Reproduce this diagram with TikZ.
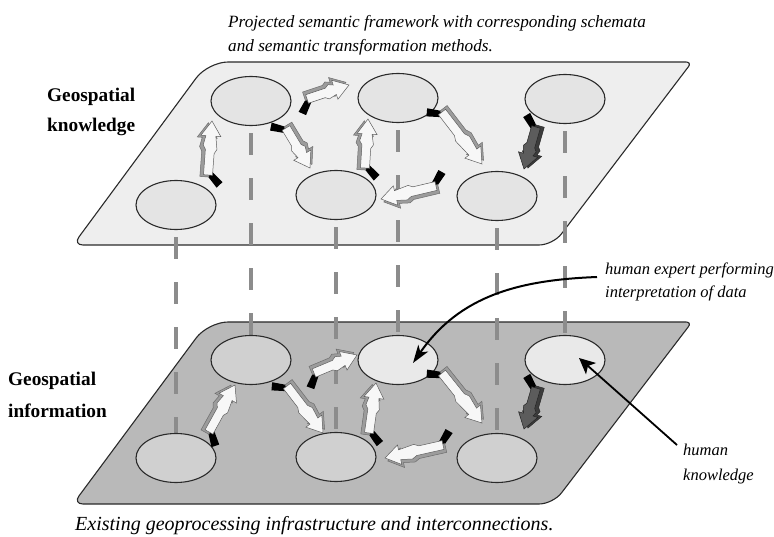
\documentclass[tikz,border=0pt]{standalone}
\usepackage{fontspec}
\setmainfont{Liberation Serif}
\usetikzlibrary{shapes.geometric,calc,arrows.meta}

\pgfdeclarelayer{planes}
\pgfdeclarelayer{links}
\pgfsetlayers{planes,links,main}

\definecolor{upperplane}{HTML}{EEEEEE}
\definecolor{lowerplane}{HTML}{B9B9B9}
\definecolor{upperdisc}{HTML}{E4E4E4}
\definecolor{lowerdisc}{HTML}{D0D0D0}
\definecolor{litdisc}{HTML}{E9E9E9}
\definecolor{linkgray}{HTML}{8C8C8C}
\definecolor{outline}{HTML}{2A2A2A}
\definecolor{faceLight}{HTML}{F7F7F7}
\definecolor{sideLight}{HTML}{9C9C9C}
\definecolor{faceDark}{HTML}{5C5C5C}
\definecolor{sideDark}{HTML}{3C3C3C}

\tikzset{
  plane/.style={draw=outline, line width=1.1pt},
  disc/.style={ellipse, draw=outline, line width=1.1pt, minimum width=80pt,
    minimum height=49pt, inner sep=0pt},
  link/.style={draw=linkgray, line width=4pt, dash pattern=on 22pt off 23pt,
    shorten <=7pt},
  layerlabel/.style={anchor=base west, inner sep=0pt,
    font=\fontsize{19.3}{23}\selectfont\bfseries},
  note/.style={anchor=base west, inner sep=0pt,
    font=\fontsize{16.5}{20}\selectfont\itshape},
  leader/.style={draw=black, line width=2pt},
}

% 3-D ribbon arrow from coordinate #1 to coordinate #2, face colour #3, side colour #4
\newcommand\flowarrow[4]{%
  \pgfpointdiff{\pgfpointanchor{#1}{center}}{\pgfpointanchor{#2}{center}}%
  \pgfgetlastxy\fadx\fady
  \pgfmathsetmacro\falen{veclen(\fadx,\fady)}%
  \pgfmathsetmacro\faang{atan2(\fady,\fadx)}%
  \begin{scope}[shift={(#1)}, rotate=\faang, x=1pt, y=1pt]
    % twisted tail, seen from behind
    \fill[black] (3,4) -- (3,-4.5) -- (-6,-15) -- (-12,-9.5) -- cycle;
    % side of the ribbon
    \filldraw[fill=#4, draw=#4!70!black, line width=0.5pt, shift={(-2,3.5)}]
      (0,-4.5) -- ({0.4*\falen},-4.5) -- ({0.48*\falen},-7) -- ({\falen-15},-5)
      -- ({\falen-15},-10) -- (\falen,0) -- ({\falen-15},10) -- ({\falen-15},5)
      -- ({0.55*\falen},7) -- ({0.47*\falen},4.5) -- (0,4.5) -- cycle;
    % front face
    \filldraw[fill=#3, draw=#4!60!black, line width=0.5pt]
      (0,-4.5) -- ({0.4*\falen},-4.5) -- ({0.48*\falen},-7) -- ({\falen-15},-5)
      -- ({\falen-15},-10) -- (\falen,0) -- ({\falen-15},10) -- ({\falen-15},5)
      -- ({0.55*\falen},7) -- ({0.47*\falen},4.5) -- (0,4.5) -- cycle;
  \end{scope}}

\begin{document}
\begin{tikzpicture}[x=1pt, y=-1pt]
\useasboundingbox (0,0) rectangle (774,537);

% the two layers
\begin{pgfonlayer}{planes}
  \path[plane, fill=upperplane] (400,62) [rounded corners=6pt] -- (692,62)
    [rounded corners=14pt] -- (553,245) [rounded corners=10pt] -- (73,245)
    [rounded corners=20pt] -- (208,62) -- cycle;
  \path[plane, fill=lowerplane] (400,322) [rounded corners=6pt] -- (692,322)
    [rounded corners=14pt] -- (553,504) [rounded corners=10pt] -- (73,504)
    [rounded corners=20pt] -- (208,322) -- cycle;
\end{pgfonlayer}

% knowledge schemata
\node[disc, fill=upperdisc] (k1) at (251,101) {};
\node[disc, fill=upperdisc] (k2) at (398,98) {};
\node[disc, fill=upperdisc] (k3) at (565,99) {};
\node[disc, fill=upperdisc] (k4) at (176,205) {};
\node[disc, fill=upperdisc] (k5) at (336,195) {};
\node[disc, fill=upperdisc] (k6) at (497,196) {};

% information resources
\node[disc, fill=lowerdisc] (i1) at (251,360) {};
\node[disc, fill=litdisc]   (i2) at (398,360) {};
\node[disc, fill=litdisc]   (i3) at (565,360) {};
\node[disc, fill=lowerdisc] (i4) at (176,458) {};
\node[disc, fill=lowerdisc] (i5) at (336,457) {};
\node[disc, fill=lowerdisc] (i6) at (497,458) {};

% projections between the layers
\begin{pgfonlayer}{links}
  \foreach \n in {1,...,6}
    \draw[link] (k\n.south) -- (i\n.north);
\end{pgfonlayer}

% transformation arrows, upper layer
\coordinate (a1t) at (307,99);  \coordinate (a1h) at (349,85);
\coordinate (a2t) at (286,128); \coordinate (a2h) at (310,168);
\coordinate (a3t) at (365,168); \coordinate (a3h) at (368,119);
\coordinate (a4t) at (442,112); \coordinate (a4h) at (482,164);
\coordinate (a5t) at (436,186); \coordinate (a5h) at (381,199);
\coordinate (a6t) at (536,127); \coordinate (a6h) at (524,169);
\coordinate (a7t) at (208,175); \coordinate (a7h) at (212,121);
\flowarrow{a1t}{a1h}{faceLight}{sideLight}
\flowarrow{a2t}{a2h}{faceLight}{sideLight}
\flowarrow{a3t}{a3h}{faceLight}{sideLight}
\flowarrow{a4t}{a4h}{faceLight}{sideLight}
\flowarrow{a5t}{a5h}{faceLight}{sideLight}
\flowarrow{a6t}{a6h}{faceDark}{sideDark}
\flowarrow{a7t}{a7h}{faceLight}{sideLight}

% geoprocessing arrows, lower layer
\coordinate (b1t) at (314,373); \coordinate (b1h) at (357,355);
\coordinate (b2t) at (287,386); \coordinate (b2h) at (323,433);
\coordinate (b3t) at (369,433); \coordinate (b3h) at (376,383);
\coordinate (b4t) at (442,373); \coordinate (b4h) at (482,423);
\coordinate (b5t) at (443,445); \coordinate (b5h) at (385,458);
\coordinate (b6t) at (536,388); \coordinate (b6h) at (524,429);
\coordinate (b7t) at (209,432); \coordinate (b7h) at (235,385);
\flowarrow{b1t}{b1h}{faceLight}{sideLight}
\flowarrow{b2t}{b2h}{faceLight}{sideLight}
\flowarrow{b3t}{b3h}{faceLight}{sideLight}
\flowarrow{b4t}{b4h}{faceLight}{sideLight}
\flowarrow{b5t}{b5h}{faceLight}{sideLight}
\flowarrow{b6t}{b6h}{faceDark}{sideDark}
\flowarrow{b7t}{b7h}{faceLight}{sideLight}

% captions
\node[note, font=\fontsize{17.2}{20}\selectfont\itshape] (cap1) at (228,28)
  {Projected semantic framework with corresponding schemata};
\node[note, font=\fontsize{17.2}{20}\selectfont\itshape] (cap2) at (228,52)
  {and semantic transformation methods.};
\node[note, font=\fontsize{20}{22}\selectfont\itshape] (cap3) at (75,530)
  {Existing geoprocessing infrastructure and interconnections.};

\node[layerlabel] (gk1) at (47,102) {Geospatial};
\node[layerlabel] (gk2) at (47,132) {knowledge};
\node[layerlabel] (gi1) at (8,385) {Geospatial};
\node[layerlabel] (gi2) at (8,417) {information};

% human expert
\node[note] (hx1) at (605,275) {human expert performing};
\node[note] (hx2) at (605,298) {interpretation of data};
\coordinate (hxs) at (597,277);
\coordinate (hxe) at ($(i2)+(15,3)$);
\draw[leader, -{Stealth[length=18pt, width=12pt, inset=5pt]}]
  (hxs) .. controls (520,280) and (460,295) .. (hxe);

% human knowledge
\node[note] (hk1) at (683,455) {human};
\node[note] (hk2) at (683,480) {knowledge};
\coordinate (hks) at (677,445);
\coordinate (hke) at ($(i3)+(14,-2)$);
\draw[leader, line width=1.8pt, -{Stealth[length=16pt, width=15pt, inset=4pt]}]
  (hks) -- (hke);
\end{tikzpicture}
\end{document}
